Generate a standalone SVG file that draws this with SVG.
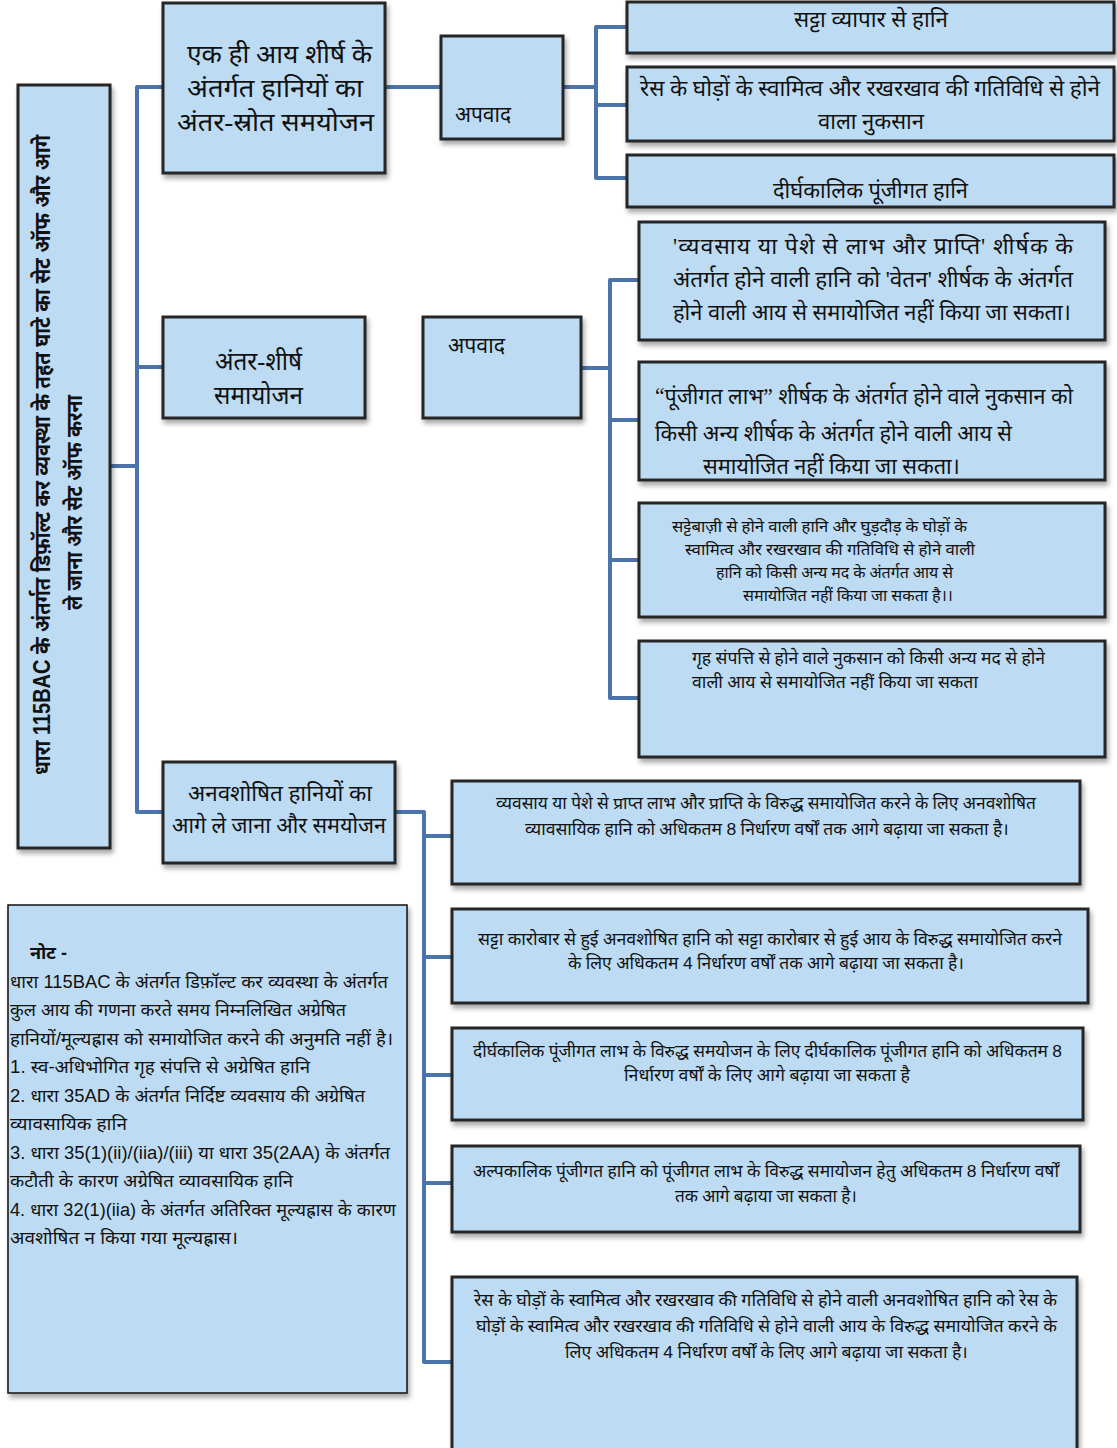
<svg xmlns="http://www.w3.org/2000/svg" width="1117" height="1448" viewBox="0 0 1117 1448">
<defs>
<filter id="sh" x="-10%" y="-10%" width="125%" height="130%">
<feDropShadow dx="2" dy="4" stdDeviation="2.5" flood-color="#000" flood-opacity="0.35"/>
</filter>
</defs>
<style>
.box{fill:#bddcf3;stroke:#262626;stroke-width:3;filter:url(#sh)}
.note{fill:#bddcf3;stroke:#111;stroke-width:1.5;filter:url(#sh)}
.con{fill:none;stroke:#4a74aa;stroke-width:4;stroke-linejoin:round}
text{font-family:"Liberation Serif","Noto Sans",serif;fill:#111}
.c{text-anchor:middle}
.l{font-size:25px}
.m{font-size:23px}
.s{font-size:17px}
.xs{font-size:16px}
.d{font-family:"Liberation Sans Narrow","Liberation Sans",sans-serif}
.n{font-family:"Liberation Sans","Noto Sans",sans-serif;font-size:18px}
.v{font-family:"Liberation Sans","Noto Sans",sans-serif;font-size:23px;font-weight:bold}
</style>
<rect width="1117" height="1448" fill="#fff"/>
<g id="connectors">
<path class="con" d="M110 466 H137 M163 87 H137 V812 H163 M137 367 H163"/>
<path class="con" d="M385 87 H441 M563 87 H596 M627 27 H596 V178 H627 M596 105 H627"/>
<path class="con" d="M581 368 H610 M639 280 H610 V698 H639 M610 420 H639 M610 560 H639"/>
<path class="con" d="M395 812 H424 V1362 H452 M424 836 H452 M424 957 H452 M424 1075 H452 M424 1183 H452"/>
</g>
<g id="main">
<rect class="box" x="18" y="85" width="92" height="763"/>
<text class="v" transform="translate(50,775) rotate(-90)" textLength="640" lengthAdjust="spacingAndGlyphs">धारा 115BAC के अंतर्गत डिफ़ॉल्ट कर व्यवस्था के तहत घाटे का सेट ऑफ और आगे</text>
<text class="v" transform="translate(82,610) rotate(-90)" textLength="215" lengthAdjust="spacingAndGlyphs">ले जाना और सेट ऑफ करना</text>
</g>
<g id="n-intra">
<rect class="box" x="163" y="3" width="222" height="170"/>
<text class="l" x="187" y="63" textLength="185" lengthAdjust="spacingAndGlyphs">एक ही आय शीर्ष के</text>
<text class="l" x="187" y="97" textLength="176" lengthAdjust="spacingAndGlyphs">अंतर्गत हानियों का</text>
<text class="l" x="177" y="131" textLength="197" lengthAdjust="spacingAndGlyphs">अंतर-स्रोत समयोजन</text>
</g>
<g id="n-apavad1">
<rect class="box" x="441" y="36" width="122" height="103"/>
<text class="m" x="455" y="122" textLength="56" lengthAdjust="spacingAndGlyphs">अपवाद</text>
</g>
<g id="n-e1">
<rect class="box" x="627" y="2" width="487" height="51"/>
<text class="m" x="794" y="27" textLength="154" lengthAdjust="spacingAndGlyphs">सट्टा व्यापार से हानि</text>
</g>
<g id="n-e2">
<rect class="box" x="627" y="67" width="487" height="74"/>
<text class="m" x="640" y="96" textLength="460" lengthAdjust="spacingAndGlyphs">रेस के घोड़ों के स्वामित्व और रखरखाव की गतिविधि से होने</text>
<text class="m" x="818" y="129" textLength="106" lengthAdjust="spacingAndGlyphs">वाला नुकसान</text>
</g>
<g id="n-e3">
<rect class="box" x="627" y="155" width="487" height="52"/>
<text class="m" x="773" y="198" textLength="195" lengthAdjust="spacingAndGlyphs">दीर्घकालिक पूंजीगत हानि</text>
</g>
<g id="n-inter">
<rect class="box" x="163" y="317" width="202" height="101"/>
<text class="l" x="215" y="370" textLength="87" lengthAdjust="spacingAndGlyphs">अंतर-शीर्ष</text>
<text class="l" x="214" y="404" textLength="89" lengthAdjust="spacingAndGlyphs">समायोजन</text>
</g>
<g id="n-apavad2">
<rect class="box" x="423" y="317" width="158" height="101"/>
<text class="m" x="448" y="353" textLength="57" lengthAdjust="spacingAndGlyphs">अपवाद</text>
</g>
<g id="n-f1">
<rect class="box" x="639" y="222" width="466" height="118"/>
<text class="m" x="673" y="254" textLength="400" lengthAdjust="spacing">'व्यवसाय या पेशे से लाभ और प्राप्ति' शीर्षक के</text>
<text class="m" x="673" y="287" textLength="400" lengthAdjust="spacingAndGlyphs">अंतर्गत होने वाली हानि को 'वेतन' शीर्षक के अंतर्गत</text>
<text class="m" x="673" y="320" textLength="398" lengthAdjust="spacingAndGlyphs">होने वाली आय से समायोजित नहीं किया जा सकता।</text>
</g>
<g id="n-f2">
<rect class="box" x="639" y="362" width="466" height="118"/>
<text class="m" x="655" y="404" textLength="418" lengthAdjust="spacingAndGlyphs">“पूंजीगत लाभ” शीर्षक के अंतर्गत होने वाले नुकसान को</text>
<text class="m" x="655" y="441" textLength="357" lengthAdjust="spacingAndGlyphs">किसी अन्य शीर्षक के अंतर्गत होने वाली आय से</text>
<text class="m" x="703" y="474" textLength="257" lengthAdjust="spacingAndGlyphs">समायोजित नहीं किया जा सकता।</text>
</g>
<g id="n-f3">
<rect class="box" x="639" y="503" width="466" height="114"/>
<text class="xs" x="672" y="532" textLength="295" lengthAdjust="spacingAndGlyphs">सट्टेबाज़ी से होने वाली हानि और घुड़दौड़ के घोड़ों के</text>
<text class="xs" x="685" y="555" textLength="290" lengthAdjust="spacingAndGlyphs">स्वामित्व और रखरखाव की गतिविधि से होने वाली</text>
<text class="xs" x="716" y="578" textLength="237" lengthAdjust="spacingAndGlyphs">हानि को किसी अन्य मद के अंतर्गत आय से</text>
<text class="xs" x="743" y="601" textLength="210" lengthAdjust="spacingAndGlyphs">समायोजित नहीं किया जा सकता है।।</text>
</g>
<g id="n-f4">
<rect class="box" x="639" y="641" width="466" height="116"/>
<text class="s" x="692" y="664" textLength="353" lengthAdjust="spacingAndGlyphs">गृह संपत्ति से होने वाले नुकसान को किसी अन्य मद से होने</text>
<text class="s" x="692" y="688" textLength="286" lengthAdjust="spacingAndGlyphs">वाली आय से समायोजित नहीं किया जा सकता</text>
</g>
<g id="n-carry">
<rect class="box" x="163" y="762" width="232" height="101"/>
<text class="m" x="188" y="801" textLength="184" lengthAdjust="spacingAndGlyphs">अनवशोषित हानियों का</text>
<text class="m" x="172" y="833" textLength="214" lengthAdjust="spacingAndGlyphs">आगे ले जाना और समयोजन</text>
</g>
<g id="n-g1">
<rect class="box" x="452" y="781" width="628" height="103"/>
<text class="s" x="496" y="809" textLength="540" lengthAdjust="spacingAndGlyphs">व्यवसाय या पेशे से प्राप्त लाभ और प्राप्ति के विरुद्ध समायोजित करने के लिए अनवशोषित</text>
<text class="s" x="525" y="835" textLength="484" lengthAdjust="spacingAndGlyphs">व्यावसायिक हानि को अधिकतम <tspan class="d">8</tspan> निर्धारण वर्षों तक आगे बढ़ाया जा सकता है।</text>
</g>
<g id="n-g2">
<rect class="box" x="452" y="909" width="636" height="94"/>
<text class="s" x="478" y="945" textLength="584" lengthAdjust="spacingAndGlyphs">सट्टा कारोबार से हुई अनवशोषित हानि को सट्टा कारोबार से हुई आय के विरुद्ध समायोजित करने</text>
<text class="s" x="568" y="969" textLength="396" lengthAdjust="spacingAndGlyphs">के लिए अधिकतम <tspan class="d">4</tspan> निर्धारण वर्षों तक आगे बढ़ाया जा सकता है।</text>
</g>
<g id="n-g3">
<rect class="box" x="452" y="1028" width="631" height="92"/>
<text class="s" x="473" y="1057" textLength="589" lengthAdjust="spacingAndGlyphs">दीर्घकालिक पूंजीगत लाभ के विरुद्ध समयोजन के लिए दीर्घकालिक पूंजीगत हानि को अधिकतम <tspan class="d">8</tspan></text>
<text class="s" x="624" y="1081" textLength="286" lengthAdjust="spacingAndGlyphs">निर्धारण वर्षों के लिए आगे बढ़ाया जा सकता है</text>
</g>
<g id="n-g4">
<rect class="box" x="452" y="1146" width="628" height="86"/>
<text class="s" x="473" y="1177" textLength="586" lengthAdjust="spacingAndGlyphs">अल्पकालिक पूंजीगत हानि को पूंजीगत लाभ के विरुद्ध समायोजन हेतु अधिकतम <tspan class="d">8</tspan> निर्धारण वर्षों</text>
<text class="s" x="675" y="1202" textLength="182" lengthAdjust="spacingAndGlyphs">तक आगे बढ़ाया जा सकता है।</text>
</g>
<g id="n-g5">
<rect class="box" x="452" y="1277" width="625" height="180"/>
<text class="s" x="474" y="1306" textLength="583" lengthAdjust="spacingAndGlyphs">रेस के घोड़ों के स्वामित्व और रखरखाव की गतिविधि से होने वाली अनवशोषित हानि को रेस के</text>
<text class="s" x="476" y="1332" textLength="581" lengthAdjust="spacingAndGlyphs">घोड़ों के स्वामित्व और रखरखाव की गतिविधि से होने वाली आय के विरुद्ध समायोजित करने के</text>
<text class="s" x="565" y="1358" textLength="403" lengthAdjust="spacingAndGlyphs">लिए अधिकतम <tspan class="d">4</tspan> निर्धारण वर्षों के लिए आगे बढ़ाया जा सकता है।</text>
</g>
<g id="n-note">
<rect class="note" x="8" y="905" width="399" height="488"/>
<text class="n" x="30" y="959" font-weight="bold">नोट -</text>
<text class="n" x="10" y="988" textLength="378" lengthAdjust="spacingAndGlyphs">धारा 115BAC के अंतर्गत डिफ़ॉल्ट कर व्यवस्था के अंतर्गत</text>
<text class="n" x="10" y="1016" textLength="336" lengthAdjust="spacingAndGlyphs">कुल आय की गणना करते समय निम्नलिखित अग्रेषित</text>
<text class="n" x="10" y="1045" textLength="383" lengthAdjust="spacingAndGlyphs">हानियों/मूल्यह्रास को समायोजित करने की अनुमति नहीं है।</text>
<text class="n" x="10" y="1073" textLength="300" lengthAdjust="spacingAndGlyphs">1. स्व-अधिभोगित गृह संपत्ति से अग्रेषित हानि</text>
<text class="n" x="10" y="1102" textLength="355" lengthAdjust="spacingAndGlyphs">2. धारा 35AD के अंतर्गत निर्दिष्ट व्यवसाय की अग्रेषित</text>
<text class="n" x="10" y="1130" textLength="117" lengthAdjust="spacingAndGlyphs">व्यावसायिक हानि</text>
<text class="n" x="10" y="1159" textLength="380" lengthAdjust="spacingAndGlyphs">3. धारा 35(1)(ii)/(iia)/(iii) या धारा 35(2AA) के अंतर्गत</text>
<text class="n" x="10" y="1187" textLength="283" lengthAdjust="spacingAndGlyphs">कटौती के कारण अग्रेषित व्यावसायिक हानि</text>
<text class="n" x="10" y="1216" textLength="386" lengthAdjust="spacingAndGlyphs">4. धारा 32(1)(iia) के अंतर्गत अतिरिक्त मूल्यह्रास के कारण</text>
<text class="n" x="10" y="1244" textLength="228" lengthAdjust="spacingAndGlyphs">अवशोषित न किया गया मूल्यह्रास।</text>
</g>
</svg>
